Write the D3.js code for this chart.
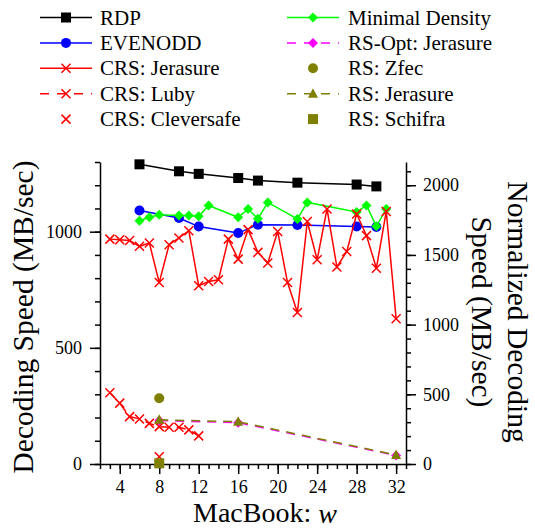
<!DOCTYPE html>
<html>
<head>
<meta charset="utf-8">
<script src="https://cdn.jsdelivr.net/npm/d3@7"></script>
<style>
  html, body { margin: 0; padding: 0; background: #fff; }
  svg { display: block; }
</style>
</head>
<body>
<svg id="chart" width="535" height="529"></svg>
<script>
// ---------------- DATA ----------------
const wRDP = [6, 10, 12, 16, 18, 22, 28, 30];
const rdp = [1290, 1260, 1249, 1231, 1220, 1211, 1203, 1195];
const evenodd = [1091, 1059, 1022, 994, 1030, 1029, 1022, 1020];

const wMinDensity = [6, 7, 8, 10, 11, 12, 13, 16, 17, 18, 19, 22, 23, 28, 29, 30, 31];
const minDensity = [1047, 1062, 1073, 1070, 1070, 1066, 1113, 1062, 1098, 1056, 1126, 1055, 1126, 1085, 1113, 1023, 1098];

const wCRS = [3, 4, 5, 6, 7, 8, 9, 10, 11, 12, 13, 14, 15, 16, 17, 18, 19, 20, 21, 22, 23, 24, 25, 26, 27, 28, 29, 30, 31, 32];
const crsJerasure = [968, 965, 962, 937, 951, 781, 944, 973, 1004, 767, 786, 793, 968, 882, 1009, 911, 865, 1001, 781, 652, 1044, 879, 1098, 848, 915, 1076, 983, 843, 1087, 625];

const wLuby = [3, 4, 5, 6, 7, 8, 9, 10, 11, 12];
const crsLuby = [307, 262, 204, 194, 175, 161, 158, 158, 147, 121];

const wCleversafe = [8];
const crsCleversafe = [31];

const wRS = [8, 16, 32];
const rsOptJerasure = [187, 178, 37];
const rsJerasure = [190, 182, 39];

const wZfec = [8];
const rsZfec = [283];
const wSchifra = [8];
const rsSchifra = [3];

const xTicksMajor = [4, 8, 12, 16, 20, 24, 28, 32];
const yLeftTicks = [0, 500, 1000];
const yRightTicks = [0, 500, 1000, 1500, 2000];

const legendLabels = ["RDP", "EVENODD", "CRS: Jerasure", "CRS: Luby", "CRS: Cleversafe",
  "Minimal Density", "RS-Opt: Jerasure", "RS: Zfec", "RS: Jerasure", "RS: Schifra"];

// ---------------- SETUP ----------------
const FONT = "'Liberation Serif', 'Times New Roman', Tinos, Times, 'Nimbus Roman', 'DejaVu Serif', serif";
const svg = d3.select("#chart");
const plotLeft = 100, plotRight = 406, plotTop = 162, plotBottom = 464;

const x = d3.scaleLinear().domain([2, 33]).range([plotLeft, plotRight]);
const y = d3.scaleLinear().domain([0, 1300]).range([plotBottom, plotTop]);
const y2 = d3.scaleLinear().domain([0, 1300 * 5 / 3]).range([plotBottom, plotTop]);

const fontTick = 18;

// ---------------- AXES ----------------
function styleAxis(g) {
  g.attr("font-family", FONT);
  g.selectAll("path.domain").attr("stroke", "#000").attr("stroke-width", 1.5);
  g.selectAll(".tick line").attr("stroke", "#000").attr("stroke-width", 1.5);
  g.selectAll(".tick text").attr("font-family", FONT).attr("font-size", fontTick).attr("fill", "#000");
}

// x minor
svg.append("g").attr("transform", `translate(0,${plotBottom})`)
  .call(d3.axisBottom(x).tickValues(d3.range(2, 34, 1)).tickSize(5).tickFormat("").tickSizeOuter(0))
  .call(styleAxis);
// x major
svg.append("g").attr("transform", `translate(0,${plotBottom})`)
  .call(d3.axisBottom(x).tickValues(xTicksMajor).tickSize(10).tickPadding(6).tickFormat(d3.format("d")).tickSizeOuter(0))
  .call(styleAxis)
  .call(g => g.select("path.domain").remove());

// left minor
svg.append("g").attr("transform", `translate(${plotLeft},0)`)
  .call(d3.axisLeft(y).tickValues(d3.range(0, 1301, 100)).tickSize(5).tickFormat("").tickSizeOuter(0))
  .call(styleAxis);
// left major
svg.append("g").attr("transform", `translate(${plotLeft},0)`)
  .call(d3.axisLeft(y).tickValues(yLeftTicks).tickSize(10).tickPadding(8).tickFormat(d3.format("d")).tickSizeOuter(0))
  .call(styleAxis)
  .call(g => g.select("path.domain").remove());

// right minor
svg.append("g").attr("transform", `translate(${plotRight},0)`)
  .call(d3.axisRight(y2).tickValues(d3.range(0, 2101, 100)).tickSize(5).tickFormat("").tickSizeOuter(0))
  .call(styleAxis);
// right major
svg.append("g").attr("transform", `translate(${plotRight},0)`)
  .call(d3.axisRight(y2).tickValues(yRightTicks).tickSize(10).tickPadding(7).tickFormat(d3.format("d")).tickSizeOuter(0))
  .call(styleAxis)
  .call(g => g.select("path.domain").remove());

// titles
svg.append("text")
  .attr("transform", "translate(33,317) rotate(-90)")
  .attr("text-anchor", "middle").attr("font-size", 29.5).attr("font-family", FONT)
  .text("Decoding Speed (MB/sec)");

const rt = svg.append("text")
  .attr("transform", "translate(508,312) rotate(90)")
  .attr("text-anchor", "middle").attr("font-size", 29.5).attr("font-family", FONT);
rt.append("tspan").attr("x", 0).attr("y", 0).text("Normalized Decoding");
rt.append("tspan").attr("x", 0).attr("y", 36).text("Speed (MB/sec)");

const xt = svg.append("text").attr("x", 265).attr("y", 522)
  .attr("text-anchor", "middle").attr("font-size", 28).attr("font-family", FONT);
xt.append("tspan").text("MacBook: ");
xt.append("tspan").attr("font-style", "italic").attr("dy", 1).text("w");

// ---------------- MARKERS ----------------
function marker(g, type, color, cx, cy) {
  if (type === "square") {
    g.append("rect").attr("x", cx - 5).attr("y", cy - 5).attr("width", 10).attr("height", 10).attr("fill", color);
  } else if (type === "circle") {
    g.append("circle").attr("cx", cx).attr("cy", cy).attr("r", 5).attr("fill", color);
  } else if (type === "diamond") {
    g.append("path").attr("d", `M${cx},${cy - 5}L${cx + 5},${cy}L${cx},${cy + 5}L${cx - 5},${cy}Z`).attr("fill", color);
  } else if (type === "triangle") {
    g.append("path").attr("d", `M${cx},${cy - 5.5}L${cx + 5},${cy + 4}L${cx - 5},${cy + 4}Z`).attr("fill", color);
  } else if (type === "x") {
    g.append("path").attr("d", `M${cx - 4.5},${cy - 4.5}L${cx + 4.5},${cy + 4.5}M${cx - 4.5},${cy + 4.5}L${cx + 4.5},${cy - 4.5}`)
      .attr("stroke", color).attr("stroke-width", 1.5).attr("fill", "none");
  }
}

const series = [
  { label: legendLabels[0], xs: wRDP, ys: rdp, color: "#000000", marker: "square", line: "solid" },
  { label: legendLabels[1], xs: wRDP, ys: evenodd, color: "#0000ff", marker: "circle", line: "solid" },
  { label: legendLabels[2], xs: wCRS, ys: crsJerasure, color: "#ff0000", marker: "x", line: "solid" },
  { label: legendLabels[3], xs: wLuby, ys: crsLuby, color: "#ff0000", marker: "x", line: "dash" },
  { label: legendLabels[4], xs: wCleversafe, ys: crsCleversafe, color: "#ff0000", marker: "x", line: "none" },
  { label: legendLabels[5], xs: wMinDensity, ys: minDensity, color: "#00ff00", marker: "diamond", line: "solid" },
  { label: legendLabels[6], xs: wRS, ys: rsOptJerasure, color: "#ff00ff", marker: "diamond", line: "dash" },
  { label: legendLabels[7], xs: wZfec, ys: rsZfec, color: "#808000", marker: "circle", line: "none" },
  { label: legendLabels[8], xs: wRS, ys: rsJerasure, color: "#808000", marker: "triangle", line: "dash" },
  { label: legendLabels[9], xs: wSchifra, ys: rsSchifra, color: "#808000", marker: "square", line: "none" },
];

const drawOrder = [0, 1, 5, 2, 3, 4, 6, 8, 7, 9];
const lineGen = d3.line().x(d => x(d[0])).y(d => y(d[1]));
const plot = svg.append("g");
drawOrder.forEach(i => {
  const s = series[i];
  const pts = s.xs.map((w, k) => [w, s.ys[k]]);
  const g = plot.append("g");
  if (s.line !== "none") {
    g.append("path").attr("d", lineGen(pts)).attr("fill", "none")
      .attr("stroke", s.color).attr("stroke-width", 1.5)
      .attr("stroke-dasharray", s.line === "dash" ? "9,7" : null);
  }
  pts.forEach(p => marker(g, s.marker, s.color, x(p[0]), y(p[1])));
});

// ---------------- LEGEND ----------------
const leg = svg.append("g");
series.forEach((s, i) => {
  const col = i < 5 ? 0 : 1;
  const row = i % 5;
  const x0 = col === 0 ? 40 : 287;
  const x1 = x0 + 52;
  const cy = 17.5 + row * 25.4;
  const g = leg.append("g");
  if (s.line !== "none") {
    g.append("line").attr("x1", x0).attr("x2", x1).attr("y1", cy).attr("y2", cy)
      .attr("stroke", s.color).attr("stroke-width", 1.5)
      .attr("stroke-dasharray", s.line === "dash" ? "9,8" : null);
  }
  marker(g, s.marker, s.color, (x0 + x1) / 2, cy);
  g.append("text").attr("x", col === 0 ? 100 : 348).attr("y", cy + 7)
    .attr("font-size", 21).attr("font-family", FONT).text(s.label);
});
</script>
</body>
</html>
